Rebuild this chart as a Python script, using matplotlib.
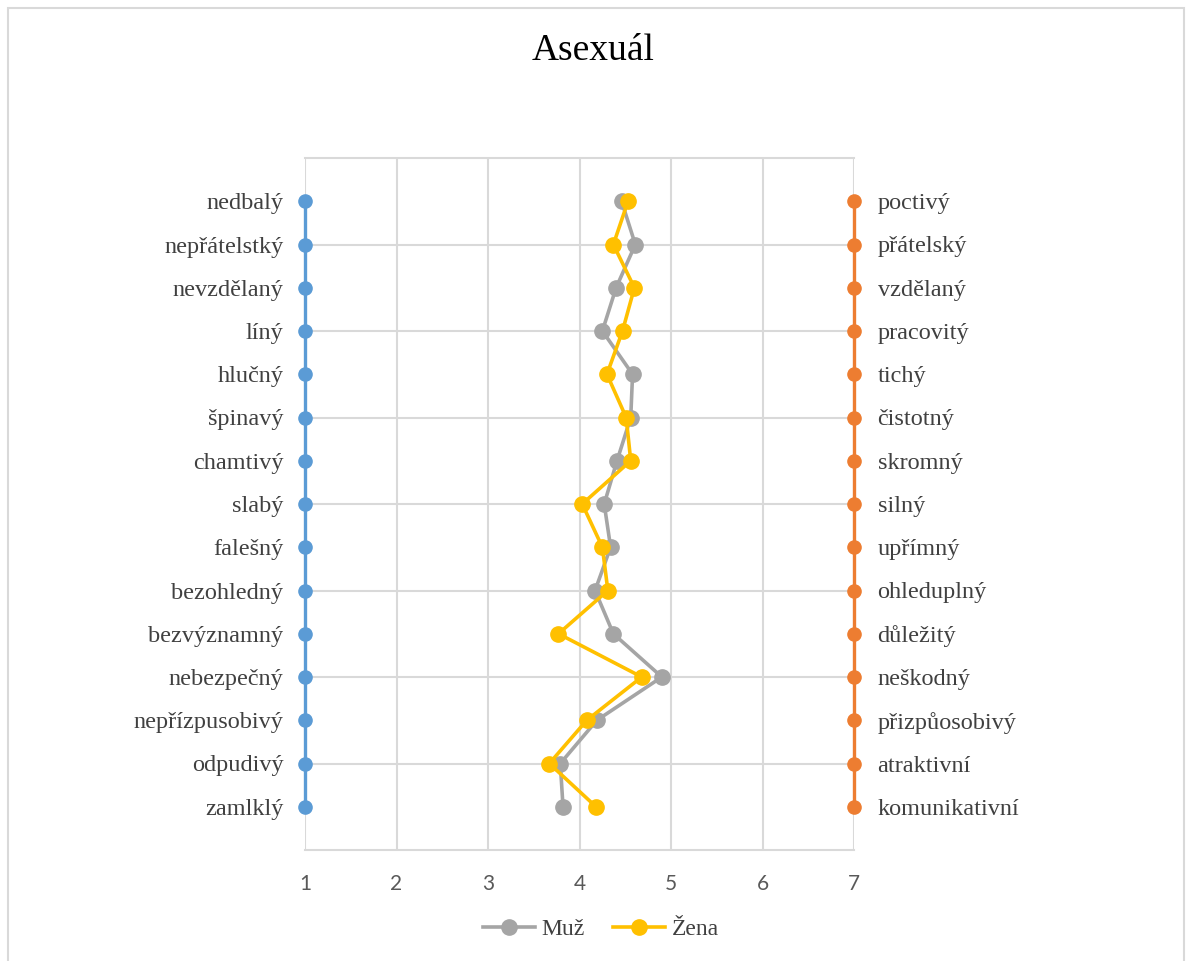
import matplotlib
matplotlib.use('Agg')
import matplotlib.pyplot as plt
from matplotlib.patches import Rectangle

left_labels = ['nedbalý', 'nepřátelstký', 'nevzdělaný', 'líný', 'hlučný', 'špinavý',
               'chamtivý', 'slabý', 'falešný', 'bezohledný', 'bezvýznamný',
               'nebezpečný', 'nepřízpusobivý', 'odpudivý', 'zamlklý']
right_labels = ['poctivý', 'přátelský', 'vzdělaný', 'pracovitý', 'tichý', 'čistotný',
                'skromný', 'silný', 'upřímný', 'ohleduplný', 'důležitý',
                'neškodný', 'přizpůosobivý', 'atraktivní', 'komunikativní']
muz = [4.46, 4.61, 4.40, 4.25, 4.58, 4.56, 4.41, 4.27, 4.34, 4.17, 4.37, 4.90, 4.19, 3.79, 3.82]
zena = [4.53, 4.37, 4.60, 4.47, 4.30, 4.51, 4.56, 4.03, 4.25, 4.31, 3.77, 4.68, 4.08, 3.67, 4.18]
scale_min, scale_max = 1, 7
x_ticks = [1, 2, 3, 4, 5, 6, 7]

serif = 'Liberation Serif'
text_col = '#404040'
grid_col = '#D9D9D9'

n = len(left_labels)
rows = list(range(n, 0, -1))  # first item at the top

fig = plt.figure(figsize=(11.86, 9.61), dpi=100)
ax = fig.add_axes([305 / 1186, 111 / 961, 549 / 1186, 692 / 961])

# grid
for xv in x_ticks:
    ax.axvline(xv, color=grid_col, lw=1.5, zorder=0)
for yv in range(0, n + 2, 2):
    ax.axhline(yv, color=grid_col, lw=1.5, zorder=0, clip_on=False)

# scale end points
ax.plot([scale_min] * n, rows, color='#5B9BD5', lw=2.4, marker='o', ms=9.5, zorder=3, clip_on=False)
ax.plot([scale_max] * n, rows, color='#ED7D31', lw=2.4, marker='o', ms=9.5, zorder=3, clip_on=False)

ax.plot(muz, rows, color='#A5A5A5', lw=2.6, marker='o', ms=11, zorder=4, label='Muž')
ax.plot(zena, rows, color='#FFC000', lw=2.6, marker='o', ms=11, zorder=5, label='Žena')

ax.set_xlim(scale_min, scale_max)
ax.set_ylim(0, n + 1)
ax.set_xticks(x_ticks)
ax.set_xticklabels([str(v) for v in x_ticks], fontfamily='Lato', fontsize=15, color='#595959')
ax.tick_params(axis='x', length=0, pad=17)

ax.set_yticks(rows)
ax.set_yticklabels(left_labels, fontfamily=serif, fontsize=17.5, color=text_col)
ax.tick_params(axis='y', length=0, pad=15.5)

ax2 = ax.twinx()
ax2.set_ylim(ax.get_ylim())
ax2.set_yticks(rows)
ax2.set_yticklabels(right_labels, fontfamily=serif, fontsize=17.5, color=text_col)
ax2.tick_params(axis='y', length=0, pad=17)

for a in (ax, ax2):
    for s in ('top', 'left', 'right', 'bottom'):
        a.spines[s].set_visible(False)

fig.text(0.5, 1 - 51 / 961, 'Asexuál', ha='center', va='center', fontfamily=serif, fontsize=27, color='black')

fig.legend(loc='center', bbox_to_anchor=(601 / 1186, 1 - 929 / 961), ncol=2, frameon=False,
           prop={'family': serif, 'size': 17}, labelcolor=text_col, handlelength=2.2,
           columnspacing=1.2, handletextpad=0.3)

fig.patches.append(Rectangle((8 / 1186, -0.05), 1176 / 1186, 1.05 - 8 / 961, transform=fig.transFigure,
                             fill=False, edgecolor=grid_col, lw=1.5))

fig.savefig('out.png', dpi=100)
